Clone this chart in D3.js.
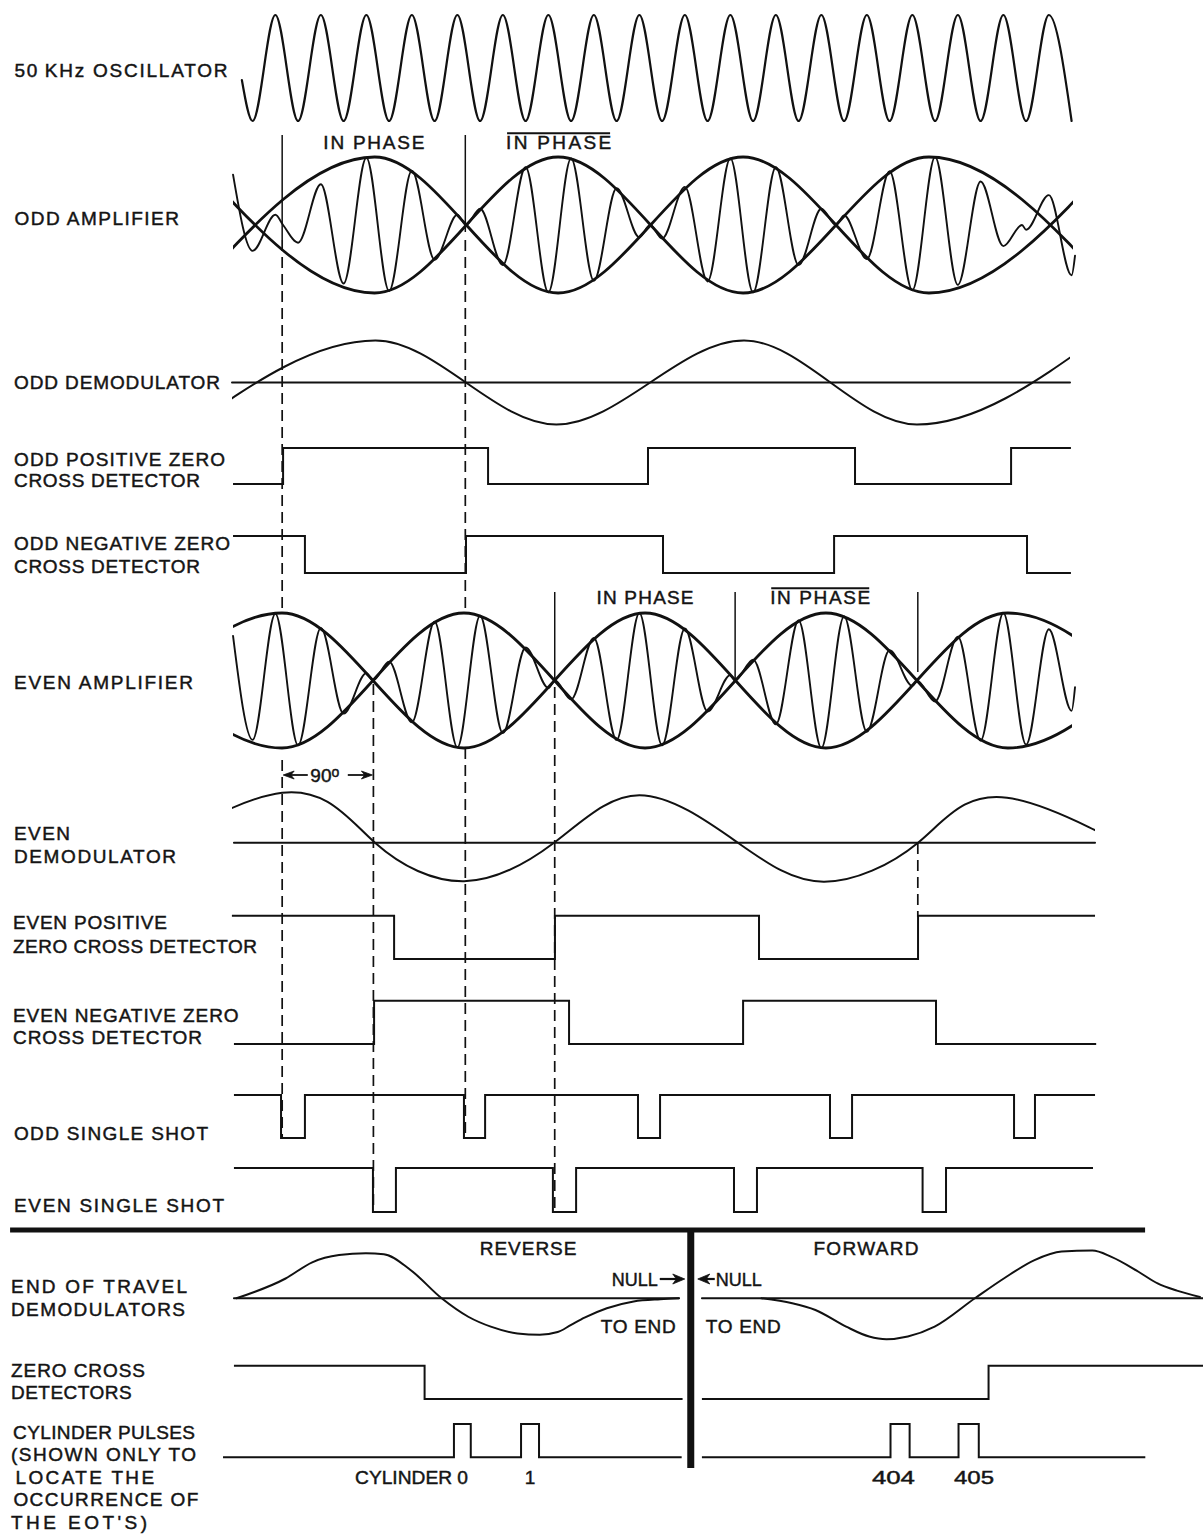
<!DOCTYPE html>
<html><head><meta charset="utf-8">
<script src="https://cdnjs.cloudflare.com/ajax/libs/d3/7.8.5/d3.min.js"></script>
<style>
 html,body{margin:0;padding:0;background:#fff}
 svg{display:block;background:#fff}
 .lbl{font-family:"Liberation Sans",Arial,sans-serif;font-size:19px;letter-spacing:0;fill:#141414;stroke:#141414;stroke-width:0.45px}
</style></head><body>
<svg id="chart" width="1203" height="1537" viewBox="0 0 1203 1537"></svg>
<script>
// ================= DATA (time axis in µs; 50 kHz carrier = 20 µs per cycle) =================
const oscillator = [[5.3,-0.23],[10,-1],[20,1],[30,-1],[40,1],[50,-1],[60,1],[70,-1],[80,1],[90,-1],[100,1],[110,-1],[120,1],[130,-1],[140,1],[150,-1],[160,1],[170,-1],[180,1],[190,-1],[200,1],[210,-1],[220,1],[230,-1],[240,1],[250,-1],[260,1],[270,-1],[280,1],[290,-1],[300,1],[310,-1],[320,1],[330,-1],[340,1],[350,-1],[360,1],[370,-1]];

const oddAmplifier = [[1.4,0.74],[10,-0.38],[20,0.15],[23.4,0],[30,-0.26],[40,0.60],[50,-0.86],[60,0.99],[70,-0.97],[80,0.80],[90,-0.51],[100,0.15],[103.8,0],[110,0.24],[120,-0.59],[130,0.85],[140,-0.99],[150,0.98],[160,-0.82],[170,0.54],[180,-0.18],[184.7,0],[190,-0.20],[200,0.56],[210,-0.83],[220,0.98],[230,-0.99],[240,0.85],[250,-0.59],[260,0.24],[266.4,0],[270,0.14],[280,-0.50],[290,0.79],[300,-0.96],[310,1.00],[320,-0.88],[330,0.64],[340,-0.31],[348.2,0],[350,-0.07],[360,0.44],[370,-0.74],[371.5,-0.45]];
const oddEnvelope = [[-16.8,-1],[63.6,1],[144.3,-1],[225.6,1],[307.3,-1],[389.1,1]];
const oddDemodulator = [[-16,-1],[64,1],[143.5,-1],[226,1],[302,-1],[380,1]];

const evenAmplifier = [[1.4,0.66],[10,-0.88],[20,0.99],[30,-0.96],[40,0.78],[50,-0.49],[60,0.11],[62.9,0],[70,0.28],[80,-0.62],[90,0.87],[100,-0.99],[110,0.96],[120,-0.78],[130,0.49],[140,-0.11],[142.9,0],[150,-0.28],[160,0.63],[170,-0.88],[180,1.00],[190,-0.96],[200,0.77],[210,-0.46],[220,0.08],[222,0],[230,0.31],[240,-0.65],[250,0.89],[260,-1.00],[270,0.95],[280,-0.76],[290,0.45],[300,-0.08],[302,0],[310,-0.31],[320,0.65],[330,-0.89],[340,1.00],[350,-0.95],[360,0.76],[370,-0.45],[371.5,-0.1]];
const evenEnvelope = [[-57.1,-1],[22.9,1],[102.9,-1],[182.5,1],[262,-1],[342,1],[422,-1]];
const evenDemodulator = [[-57,-0.78],[23,1],[63.8,0],[103,-0.77],[142.5,0],[180,0.95],[223.3,0],[261,-0.78],[302.5,0],[341.6,0.9],[422,-0.78]];

// digital traces: [start, toggle times..., end]
const oddPosZC  = [1.4, 23.4, 113.5, 183.8, 274.8, 343.4, 369.7];
const oddNegZC  = [1.4, 33.0, 103.8, 190.4, 265.6, 350.4, 369.7];
const evenPosZC = [0.9, 72.2, 142.9, 232.6, 302.5, 380.3];
const evenNegZC = [1.8, 63.4, 149.1, 225.6, 310.4, 380.8];
const oddShot   = [1.8, 22.5, 33.0, 102.9, 112.2, 179.4, 189.1, 263.8, 273.5, 344.7, 353.9, 380.3];
const evenShot  = [1.8, 62.9, 73.0, 142.0, 152.2, 221.6, 231.7, 304.5, 314.8, 379.4];
const eotZCReverse = [1.8, 85.6, 199.0];
const eotZCForward = [207.5, 333.5, 427.8];
const cylReverse = [-3.0, 98.5, 105.9, 128.0, 135.9, 198.6];
const cylForward = [207.5, 290.4, 298.8, 320.3, 329.2, 402.4];
const startLevels = {oddPosZC:0, oddNegZC:1, evenPosZC:1, evenNegZC:0, oddShot:1, evenShot:1, eotZCReverse:1, eotZCForward:0, cylReverse:0, cylForward:0};

// end-of-travel demodulators
const eotReverse = [[2.9,0],[24.5,0.44],[36.2,0.80],[48.0,0.96],[59.8,1.0],[67.7,0.98],[79.4,0.63],[93.1,0],[104.8,-0.41],[114.7,-0.63],[126.4,-0.78],[136.2,-0.81],[144.1,-0.75],[150.0,-0.59],[155.9,-0.43],[165.7,-0.22],[177.5,-0.07],[189.2,-0.02],[197.4,0]];
const eotForward = [[233.7,0],[247.2,-0.11],[257.4,-0.26],[270.9,-0.63],[281.0,-0.85],[288.6,-0.91],[298.0,-0.85],[309.8,-0.63],[327.5,0],[340.2,0.44],[353.7,0.85],[365.6,1.04],[379.1,1.06],[387.5,0.92],[399.4,0.59],[407.8,0.33],[416.3,0.17],[426.4,0.03]];

// visible time spans
const spans = {oddAmp:[1.4,370.6], evenAmp:[1.4,370.2], oddDemod:[0.95,369.3], evenDemod:[0.95,380.3],
  oddDemodBase:[0.95,369.3], evenDemodBase:[1.8,380.3], eotBaseReverse:[1.8,197.4], eotBaseForward:[207.5,427.8],
  divider:[-96.6,402.3], endOfTravel:[202.6]};

// event markers (times)
const markerTimes = [23, 103.5, 63.1, 142.8, 222.1, 302.4];
const phaseSpan = [23, 63.1];

// labels
const rowLabels = [["50\u2009KHz OSCILLATOR"],["ODD AMPLIFIER"],["ODD DEMODULATOR"],["ODD POSITIVE ZERO","CROSS DETECTOR"],["ODD NEGATIVE ZERO","CROSS DETECTOR"],["EVEN AMPLIFIER"],["EVEN","DEMODULATOR"],["EVEN POSITIVE","ZERO CROSS DETECTOR"],["EVEN NEGATIVE ZERO","CROSS DETECTOR"],["ODD SINGLE SHOT"],["EVEN SINGLE SHOT"],["END OF TRAVEL","DEMODULATORS"],["ZERO CROSS","DETECTORS"],["CYLINDER PULSES","(SHOWN ONLY TO","LOCATE THE","OCCURRENCE OF","THE EOT'S)"]];
const phaseLabels = [["IN PHASE",63.3,false],["IN PHASE",144.5,true],["IN PHASE",182.5,false],["IN PHASE",259.5,true]];
const directionLabels = [["REVERSE",131.1],["FORWARD",279.6]];
const cylinderLabels = [["CYLINDER 0",104.7,"end"],["1",131.9,"middle"],["404",291.7,"middle"],["405",327.1,"middle"]];

// ================= LAYOUT =================
const L = {
  osc:{c:68,a:53}, oddAmp:{c:225,a:68}, oddDemod:{c:382.5,a:42},
  oddPos:{hi:448,lo:484}, oddNeg:{hi:536,lo:573},
  evenAmp:{c:680.5,a:67.5}, evenDemod:{c:842.7,a:50},
  evenPos:{hi:915.7,lo:959}, evenNeg:{hi:1000.7,lo:1044},
  oddShot:{hi:1095,lo:1138}, evenShot:{hi:1168,lo:1212},
  eot:{c:1298.3,a:45}, zc:{hi:1365.7,lo:1399}, cyl:{hi:1424,lo:1457.3},
  labelY:[[70],[218],[382],[459,480],[543,566],[682],[833,856],[922,946],[1015,1037],[1133],[1205],[1286,1309],[1370,1392],[1432,1454,1477,1499,1522]],
  labelX:[[14.5],[14.5],[14],[14,14],[14,14],[14],[14,14],[13,13],[13,13],[14],[14],[11,11],[11,11],[13,11,15.6,13.4,11]],
  labelW:[[213],[164.5],[206],[211,186],[216,186],[179],[56,162],[154,244],[225.6,189],[194],[210],[176,174],[134,120.6],[182,185,138.5,185,136]],
  markers:[{solid:[135,240],dashed:[[240,612],[760,1138]]},{solid:[135,232],dashed:[[240,612],[748,1138]]},{dashed:[[684,1212]]},{solid:[592,681],dashed:[[687,1212]]},{solid:[592,680]},{solid:[592,672],dashed:[[843,917]]}],
  phaseY:[142,142,597,597], phaseW:[101,105,97,100], phaseArrowY:775, dirY:1248, dirW:[96.7,105],
  nullY:1279, nullW:46, toEndY:1326, toEndW:75, cylLabelY:1477, cylW:[113,null,43,40],
  dividerY:1230, barTop:1229, barBottom:1468
};
const INK = "#111";

// ================= DRAW =================
const svg = d3.select("#chart");
const x = d3.scaleLinear().domain([0,430]).range([229.85,1208.1]);
const defs = svg.append("defs");
const analogY = (r, flip) => d3.scaleLinear().domain([-1,1]).range(flip ? [r.c-r.a, r.c+r.a] : [r.c+r.a, r.c-r.a]);
const digitalY = r => d3.scaleLinear().domain([0,1]).range([r.lo, r.hi]);

function clip(id, span){
  defs.append("clipPath").attr("id",id).append("rect")
    .attr("x",x(span[0])).attr("y",0).attr("width",x(span[1])-x(span[0])).attr("height",1537);
  return `url(#${id})`;
}
function analog(data, ys, w, clipRef, curve){
  const ln = d3.line().x(d=>x(d[0])).y(d=>ys(d[1])).curve(curve || d3.curveMonotoneX);
  svg.append("path").attr("d",ln(data)).attr("fill","none").attr("stroke",INK)
    .attr("stroke-width",w).attr("stroke-linejoin","round").attr("stroke-linecap","round")
    .attr("clip-path",clipRef||null);
}
function baseline(span, ys, w){
  analog([[span[0],0],[span[1],0]], ys, w, null, d3.curveLinear);
}
function digital(arr, level0, r, w){
  const ys = digitalY(r);
  const pts = arr.map((t,i)=>{
    const k = i===arr.length-1 ? i-1 : i;
    return [t, (level0 + k) % 2];
  });
  const ln = d3.line().x(d=>x(d[0])).y(d=>ys(d[1])).curve(d3.curveStepAfter);
  svg.append("path").attr("d",ln(pts)).attr("fill","none").attr("stroke",INK)
    .attr("stroke-width",w||2).attr("stroke-linejoin","miter");
}

// oscillator
analog(oscillator, analogY(L.osc), 2.2);

// odd amplifier
const cOdd = clip("cOdd", spans.oddAmp);
analog(oddEnvelope, analogY(L.oddAmp), 2.8, cOdd);
analog(oddEnvelope, analogY(L.oddAmp,true), 2.8, cOdd);
analog(oddAmplifier, analogY(L.oddAmp), 1.9);

// odd demodulator
baseline(spans.oddDemodBase, analogY(L.oddDemod), 2);
analog(oddDemodulator, analogY(L.oddDemod), 2, clip("cOddD", spans.oddDemod));

digital(oddPosZC, startLevels.oddPosZC, L.oddPos);
digital(oddNegZC, startLevels.oddNegZC, L.oddNeg);

// even amplifier
const cEven = clip("cEven", spans.evenAmp);
analog(evenEnvelope, analogY(L.evenAmp), 2.8, cEven);
analog(evenEnvelope, analogY(L.evenAmp,true), 2.8, cEven);
analog(evenAmplifier, analogY(L.evenAmp), 1.9);

// even demodulator
baseline(spans.evenDemodBase, analogY(L.evenDemod), 2);
analog(evenDemodulator, analogY(L.evenDemod), 2, clip("cEvenD", spans.evenDemod), d3.curveNatural);

digital(evenPosZC, startLevels.evenPosZC, L.evenPos);
digital(evenNegZC, startLevels.evenNegZC, L.evenNeg);
digital(oddShot, startLevels.oddShot, L.oddShot);
digital(evenShot, startLevels.evenShot, L.evenShot);

// markers
markerTimes.forEach((t,i)=>{
  const m = L.markers[i], px = x(t);
  if (m.solid) svg.append("line").attr("x1",px).attr("x2",px).attr("y1",m.solid[0]).attr("y2",m.solid[1])
      .attr("stroke",INK).attr("stroke-width",1.5);
  (m.dashed||[]).forEach(s=> svg.append("line").attr("x1",px).attr("x2",px).attr("y1",s[0]).attr("y2",s[1])
      .attr("stroke",INK).attr("stroke-width",1.7).attr("stroke-dasharray","11,6"));
});

// arrowheads
function arrowHead(px, py, dir, len, half){
  svg.append("path").attr("d",`M${px},${py}L${px-dir*len},${py-half}L${px-dir*len*0.7},${py}L${px-dir*len},${py+half}Z`)
    .attr("fill",INK).attr("stroke",INK).attr("stroke-width",0.8).attr("stroke-linejoin","miter");
}
// 90 degree arrow
{
  const y0 = L.phaseArrowY, a = x(phaseSpan[0]), b = x(phaseSpan[1]);
  const mid = (a+b)/2;
  svg.append("line").attr("x1",a+3).attr("x2",mid-20).attr("y1",y0).attr("y2",y0).attr("stroke",INK).attr("stroke-width",1.8);
  svg.append("line").attr("x1",mid+20).attr("x2",b-3).attr("y1",y0).attr("y2",y0).attr("stroke",INK).attr("stroke-width",1.8);
  arrowHead(a+1, y0, -1, 11, 4);
  arrowHead(b-1, y0, 1, 11, 4);
  const tx = svg.append("text").attr("class","lbl").attr("x",mid-3).attr("y",y0+6.8).attr("text-anchor","middle");
  tx.append("tspan").text("90");
  tx.append("tspan").attr("dy",-5).attr("font-size",14).text("o");
}

// bottom section
analog(eotReverse, analogY(L.eot), 2);
analog(eotForward, analogY(L.eot), 2);
baseline(spans.eotBaseReverse, analogY(L.eot), 2);
baseline(spans.eotBaseForward, analogY(L.eot), 2);
digital(eotZCReverse, startLevels.eotZCReverse, L.zc);
digital(eotZCForward, startLevels.eotZCForward, L.zc);
digital(cylReverse, startLevels.cylReverse, L.cyl);
digital(cylForward, startLevels.cylForward, L.cyl);

// dividers
svg.append("line").attr("x1",x(spans.divider[0])).attr("x2",x(spans.divider[1])).attr("y1",L.dividerY).attr("y2",L.dividerY)
  .attr("stroke",INK).attr("stroke-width",5);
svg.append("line").attr("x1",x(spans.endOfTravel[0])).attr("x2",x(spans.endOfTravel[0])).attr("y1",L.barTop).attr("y2",L.barBottom)
  .attr("stroke",INK).attr("stroke-width",7);

// ================= TEXT =================
function label(txt, px, cy, anchor, w, mode){
  const t = svg.append("text").attr("class","lbl").attr("x",px).attr("y",cy+6.8).attr("text-anchor",anchor||"start").text(txt);
  if (w) t.attr("textLength",w).attr("lengthAdjust",mode||"spacing");
  return t;
}
rowLabels.forEach((lines,i)=> lines.forEach((s,j)=> label(s, L.labelX[i][j], L.labelY[i][j], "start", L.labelW[i][j])));

phaseLabels.forEach((p,i)=>{
  const t = label(p[0], x(p[1]), L.phaseY[i], "middle", L.phaseW[i]);
  if (p[2]) {
    const bb = t.node().getBBox();
    svg.append("line").attr("x1",bb.x+1).attr("x2",bb.x+bb.width-1).attr("y1",bb.y+1.5).attr("y2",bb.y+1.5)
      .attr("stroke",INK).attr("stroke-width",2);
  }
});
directionLabels.forEach((d,i)=> label(d[0], x(d[1]), L.dirY, "middle", L.dirW[i]));
cylinderLabels.forEach((d,i)=> label(d[0], x(d[1]), L.cylLabelY, d[2], L.cylW[i], "spacingAndGlyphs"));

// NULL arrows and TO END
{
  const bar = x(spans.endOfTravel[0]);
  label("NULL", bar-33, L.nullY, "end", L.nullW, "spacingAndGlyphs");
  svg.append("line").attr("x1",bar-31).attr("x2",bar-12).attr("y1",L.nullY).attr("y2",L.nullY).attr("stroke",INK).attr("stroke-width",2.2);
  arrowHead(bar-6, L.nullY, 1, 12, 5);
  label("NULL", bar+25, L.nullY, "start", L.nullW, "spacingAndGlyphs");
  svg.append("line").attr("x1",bar+24).attr("x2",bar+12).attr("y1",L.nullY).attr("y2",L.nullY).attr("stroke",INK).attr("stroke-width",2.2);
  arrowHead(bar+7, L.nullY, -1, 12, 5);
  label("TO END", bar-15, L.toEndY, "end", L.toEndW);
  label("TO END", bar+15, L.toEndY, "start", L.toEndW);
}
</script>
</body></html>
